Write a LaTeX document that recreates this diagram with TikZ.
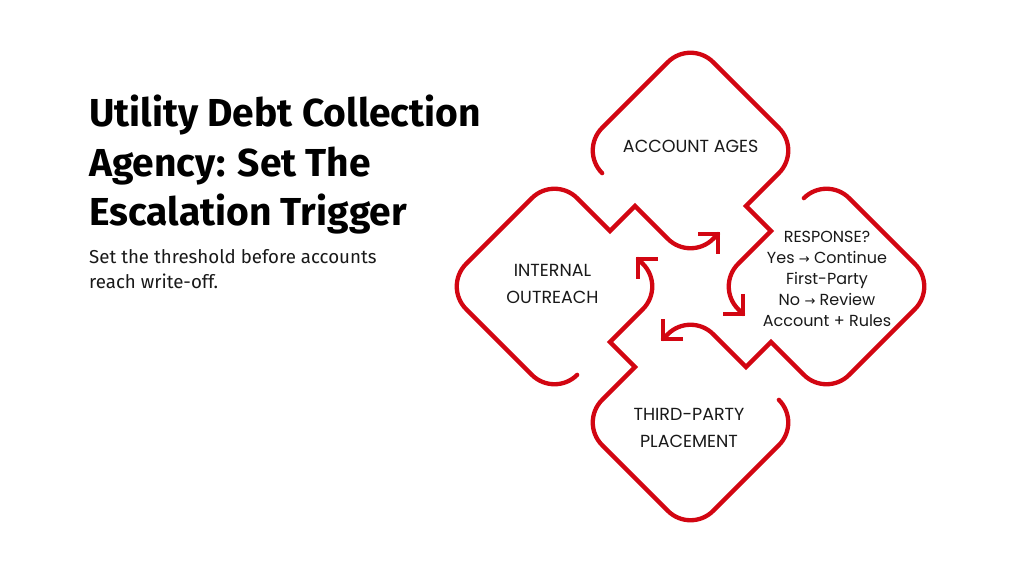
\documentclass[tikz,border=0pt]{standalone}
\usepackage{fontspec}
\setmainfont{Fira Sans}
\newfontfamily\popfont{Poppins}
\newfontfamily\dvfont{DejaVu Sans}
\definecolor{cyclered}{RGB}{210,6,18}
\newcommand{\rarr}{{\dvfont\fontsize{13}{13}\selectfont →}}
\begin{document}
\begin{tikzpicture}[x=1pt,y=-1pt,
  loop/.style={draw=cyclered,line width=4.3pt,line cap=round,line join=miter},
  tip/.style={draw=cyclered,line width=4.3pt,line cap=butt,line join=miter},
  title/.style={anchor=base west,inner sep=0pt,font=\fontsize{39}{39}\selectfont\bfseries,text=black},
  sub/.style={anchor=base west,inner sep=0pt,font=\fontsize{18.7}{18.7}\selectfont,text=black!90},
  lab/.style={anchor=base,inner sep=0pt,font=\popfont\fontsize{17.5}{17.5}\selectfont,text=black!90},
  labs/.style={lab,font=\popfont\fontsize{16}{16}\selectfont}]
\useasboundingbox (0,0) rectangle (1012,569);
\fill[white] (0,0) rectangle (1012,569);
\coordinate (O) at (690.5,286.5);
\foreach \r in {0,90,180,270}{
 \begin{scope}[shift={(O)},rotate=\r]
  \draw[loop] (-113.37,88.37) .. controls (-125.87,100.87) and (-146.13,100.87) .. (-158.63,88.37)
   -- (-224.37,22.63) .. controls (-236.87,10.13) and (-236.87,-10.13) .. (-224.37,-22.63)
   -- (-158.63,-88.37) .. controls (-146.13,-100.87) and (-125.87,-100.87) .. (-113.37,-88.37)
   -- (-80.5,-55.5) -- (-55.5,-80.5) -- (-22.63,-47.63)
   .. controls (-10.13,-35.13) and (10.13,-35.13) .. (22.63,-47.63) -- (27.5,-52.5);
  \draw[tip] (7.5,-52.5) -- (27.5,-52.5) -- (27.5,-32.5);
 \end{scope}}
\node[title] (t1) at (89,126.7) {Utility Debt Collection};
\node[title] (t2) at (89,176.7) {Agency: Set The};
\node[title] (t3) at (89,225.7) {Escalation Trigger};
\node[sub] (s1) at (89,263.7) {Set the threshold before accounts};
\node[sub] (s2) at (89,288.3) {reach write-off.};
\node[lab] (a1) at (690.7,152.7) {ACCOUNT AGES};
\node[labs] (r1) at (827,242.7) {RESPONSE?};
\node[labs] (r2) at (827,263.3) {Yes \rarr\ Continue};
\node[labs] (r3) at (827,284.3) {First-Party};
\node[labs] (r4) at (827,305.7) {No \rarr\ Review};
\node[labs] (r5) at (827,326.7) {Account + Rules};
\node[lab] (i1) at (552.5,276.7) {INTERNAL};
\node[lab] (i2) at (552.5,303.3) {OUTREACH};
\node[lab] (p1) at (689,420.7) {THIRD-PARTY};
\node[lab] (p2) at (689,447.3) {PLACEMENT};
\end{tikzpicture}
\end{document}
